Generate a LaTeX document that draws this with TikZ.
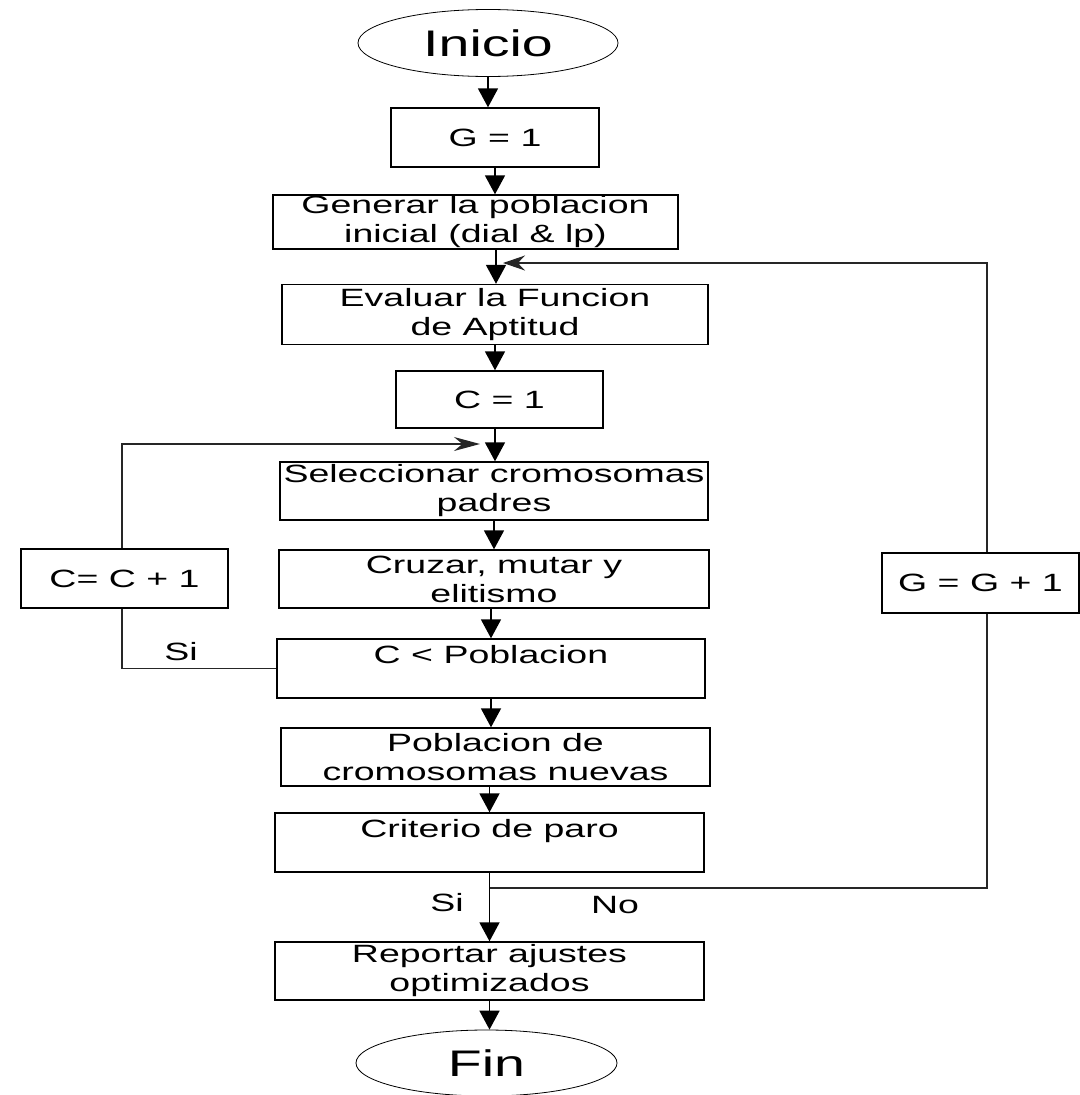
\documentclass[tikz,border=0pt]{standalone}
\usepackage{fontspec}
\setmainfont[FakeStretch=1.5]{Liberation Sans}
\usetikzlibrary{shapes.geometric,arrows.meta}

\begin{document}
\begin{tikzpicture}[x=1pt,y=-1pt,
		box_style/.style={rectangle,draw=black,line width=1.4pt,inner sep=0pt,align=center,font=\fontsize{25}{29}\selectfont},
		term_style/.style={ellipse,draw=black,line width=0.8pt,inner sep=0pt,font=\fontsize{37}{40}\selectfont},
		arrow_style/.style={draw=black,line width=1.8pt,-{Triangle[length=19pt,width=20pt]}},
		loop_style/.style={draw=black!85,line width=1.2pt},
		label_style/.style={inner sep=0pt,font=\fontsize{25}{29}\selectfont}]

		\useasboundingbox (0,0) rectangle (1079,1095);

		\node[term_style,minimum width=260,minimum height=67] (inicio) at (488,43) {Inicio};
		\node[box_style,minimum width=208,minimum height=59] (g1) at (495,137.5) {G = 1};
		\node[box_style,minimum width=405,minimum height=54] (gen) at (475.5,222) {Generar la poblacion\\inicial (dial \& lp)};
		\node[box_style,minimum width=426,minimum height=60] (eval) at (495,314.5) {Evaluar la Funcion\\de Aptitud};
		\node[box_style,minimum width=207,minimum height=57] (c1) at (499.5,399.5) {C = 1};
		\node[box_style,minimum width=428,minimum height=58] (sel) at (494,491) {Seleccionar cromosomas\\padres};
		\node[box_style,minimum width=430,minimum height=58] (cruz) at (494,579) {Cruzar, mutar y\\elitismo};
		\node[box_style,minimum width=207,minimum height=59] (cc1) at (124.5,578.5) {C= C + 1};
		\node[box_style,minimum width=197,minimum height=60] (gg1) at (980.5,583) {G = G + 1};
		\node[box_style,minimum width=428,minimum height=59] (cpob) at (491,668.5) {C < Poblacion\\\mbox{}};
		\node[box_style,minimum width=429,minimum height=58] (pobn) at (495.5,757) {Poblacion de\\cromosomas nuevas};
		\node[box_style,minimum width=429,minimum height=59] (crit) at (489.5,842.5) {Criterio de paro\\\mbox{}};
		\node[box_style,minimum width=429,minimum height=58] (rep) at (489.5,971) {Reportar ajustes\\optimizados};
		\node[term_style,minimum width=261,minimum height=66] (fin) at (486.5,1063) {Fin};

		\node[label_style] (si1) at (181,652) {Si};
		\node[label_style] (si2) at (447,903) {Si};
		\node[label_style] (no) at (615,905) {No};

		\coordinate (gloop) at (496,263);
		\coordinate (gright) at (987,888);
		\coordinate (cloop) at (495,444);
		\coordinate (cleft) at (122,444);

		\draw[arrow_style] (inicio) -- (inicio |- g1.north);
		\draw[arrow_style] (g1) -- (g1 |- gen.north);
		\draw[arrow_style] (gen.south -| gloop) -- (gloop |- eval.north);
		\draw[arrow_style] (eval) -- (eval |- c1.north);
		\draw[arrow_style] (c1.south -| cloop) -- (cloop |- sel.north);
		\draw[arrow_style] (sel) -- (sel |- cruz.north);
		\draw[arrow_style] (cpob.north |- cruz.south) -- (cpob.north);
		\draw[arrow_style] (cpob) -- (cpob |- pobn.north);
		\draw[arrow_style] (crit.north |- pobn.south) -- (crit.north);
		\draw[arrow_style] (crit) -- (crit |- rep.north);
		\draw[arrow_style] (rep) -- (rep |- fin.north);

		% lazo de generaciones
		\draw[loop_style] (crit.south |- gright) -- (gright) -- (gright |- gg1.south);
		\draw[loop_style,-{Stealth[length=22pt,width=15pt]},shorten >=7pt] (gg1.north -| gright) -- (gright |- gloop) -- (gloop);

		% lazo de cromosomas
		\draw[loop_style] (cpob.west) -- (cpob.west -| cleft) -- (cleft |- cc1.south);
		\draw[loop_style,-{Stealth[length=26pt,width=14pt]},shorten >=15pt] (cleft |- cc1.north) -- (cleft) -- (cloop);

		\end{tikzpicture}
\end{document}
